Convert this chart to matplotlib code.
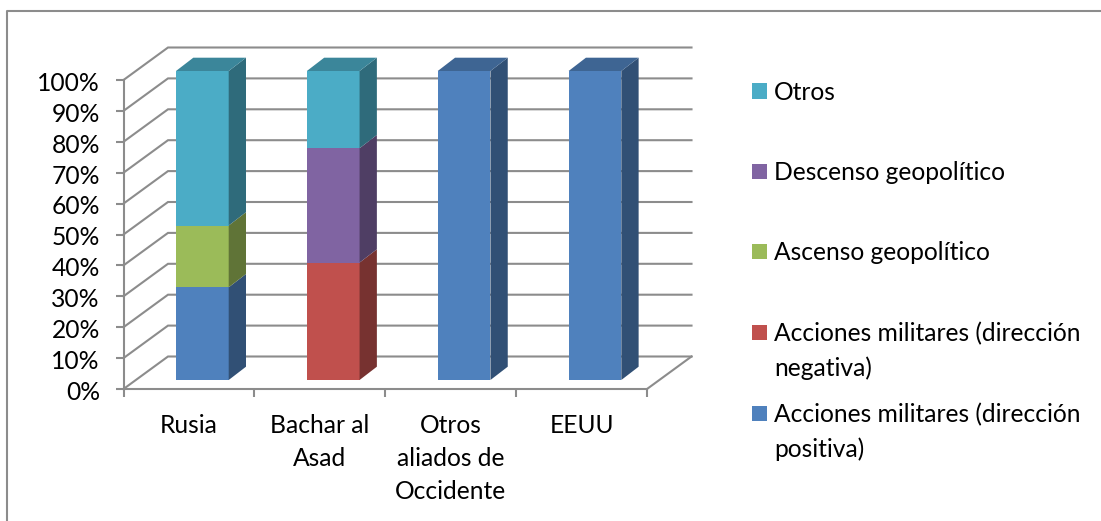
import matplotlib
matplotlib.use("Agg")
import matplotlib.pyplot as plt
from matplotlib.colors import to_rgb
from matplotlib.lines import Line2D
from matplotlib.patches import Polygon, Rectangle
from matplotlib.transforms import ScaledTranslation

plt.rcParams['font.family'] = ['Lato', 'DejaVu Sans']

categories = ["Rusia", "Bachar al\nAsad", "Otros\naliados de\nOccidente", "EEUU"]
mil_pos = [30, 0, 100, 100]
mil_neg = [0, 38, 0, 0]
ascenso = [20, 0, 0, 0]
descenso = [0, 37, 0, 0]
otros = [50, 25, 0, 0]
y_ticks = [0, 10, 20, 30, 40, 50, 60, 70, 80, 90, 100]
series_labels = ["Acciones militares (dirección\npositiva)",
                 "Acciones militares (dirección\nnegativa)",
                 "Ascenso geopolítico", "Descenso geopolítico", "Otros"]
series_colors = ["#4F81BD", "#C0504D", "#9BBB59", "#8064A2", "#4BACC6"]

W, H = 1101, 521
fig = plt.figure(figsize=(W / 100, H / 100), dpi=100)
X0, X1, Y0, Y1 = 123.5, 647, 389, 80
ax = fig.add_axes([X0 / W, 1 - Y0 / H, (X1 - X0) / W, (Y0 - Y1) / H])
ax.set_xlim(0, 4)
ax.set_ylim(0, 100)
ax.patch.set_visible(False)
px = 4 / (X1 - X0)
py = 100 / (Y0 - Y1)
GREY = "#8C8C8C"
FS = 17.7
LW = 1.5

# oblique depth offsets, in data units
wall_dx, wall_dy = 44.5 * px, 32.5 * py
floor_dx, floor_dy = 12.5 * px, 9 * py
bar_dx, bar_dy = 17.3 * px, 13.3 * py
bar_w = 52.7 * px
bar_left = (176 - X0 - 12.5) * px

# walls and gridlines
for v in y_ticks:
    ax.plot([0, wall_dx, 4 + wall_dx], [v, v + wall_dy, v + wall_dy],
            color=GREY, lw=LW, clip_on=False, zorder=1, solid_joinstyle='miter')
ax.plot([4, 4 + wall_dx], [0, wall_dy], color=GREY, lw=LW, clip_on=False, zorder=1)

# stacked bars
stack = [mil_pos, mil_neg, ascenso, descenso, otros]
z = 2
for i in range(len(categories)):
    bottom = 0
    left = i + bar_left + floor_dx
    right = left + bar_w
    base = floor_dy
    for vals, col in zip(stack, series_colors):
        v = vals[i]
        if v == 0:
            continue
        c = to_rgb(col)
        side = tuple(k * 0.62 for k in c)
        y0, y1 = base + bottom, base + bottom + v
        ax.add_patch(Rectangle((left, y0), bar_w, v, fc=col, ec='none', zorder=z, clip_on=False))
        ax.add_patch(Polygon([(right, y0), (right + bar_dx, y0 + bar_dy),
                              (right + bar_dx, y1 + bar_dy), (right, y1)],
                             fc=side, ec='none', zorder=z, clip_on=False))
        bottom += v
    top_col = tuple(k * 0.78 for k in to_rgb(
        [col for vals, col in zip(stack, series_colors) if vals[i] > 0][-1]))
    yt = base + bottom
    ax.add_patch(Polygon([(left, yt), (left + bar_dx, yt + bar_dy),
                          (right + bar_dx, yt + bar_dy), (right, yt)],
                         fc=top_col, ec='none', zorder=z, clip_on=False))
    z += 1

# axes
for s in ("top", "right"):
    ax.spines[s].set_visible(False)
for s in ("left", "bottom"):
    ax.spines[s].set_color(GREY)
    ax.spines[s].set_linewidth(LW)
ax.set_yticks(y_ticks)
ax.set_yticklabels([f"{v}%" for v in y_ticks], fontsize=FS, color="#000000")
ax.tick_params(axis='y', length=6, width=LW, color=GREY, pad=11)
shift = ScaledTranslation(0, -1.0 / 72, fig.dpi_scale_trans)
for t in ax.get_yticklabels():
    t.set_transform(t.get_transform() + shift)
ax.set_xticks(range(5))
ax.set_xticklabels([])
ax.tick_params(axis='x', which='major', length=6, width=LW, color=GREY)
ax.set_xticks([0.5, 1.5, 2.5, 3.5], minor=True)
ax.set_xticklabels(categories, minor=True, fontsize=FS, color="#000000",
                   linespacing=1.53, ma='center')
ax.tick_params(axis='x', which='minor', length=0, pad=18)

# legend, top entry first
legend_y = [413, 332, 251, 171, 91]
for lab, col, y in zip(series_labels, series_colors, legend_y):
    fig.add_artist(Rectangle((752 / W, 1 - (y + 7.5) / H), 15 / W, 15 / H,
                             fc=col, ec='none', transform=fig.transFigure))
    for j, line in enumerate(lab.split("\n")):
        fig.text(774 / W, 1 - (y - 0.5 + j * 35) / H, line, fontsize=FS, color="#000000",
                 va='center_baseline', ha='left')

# chart frame, cut by the picture's edges
fig.add_artist(Line2D([7 / W, 7 / W, 1], [0, 1 - 10.5 / H, 1 - 10.5 / H],
                      color=GREY, lw=LW, transform=fig.transFigure))

fig.savefig("out.png", dpi=100)
